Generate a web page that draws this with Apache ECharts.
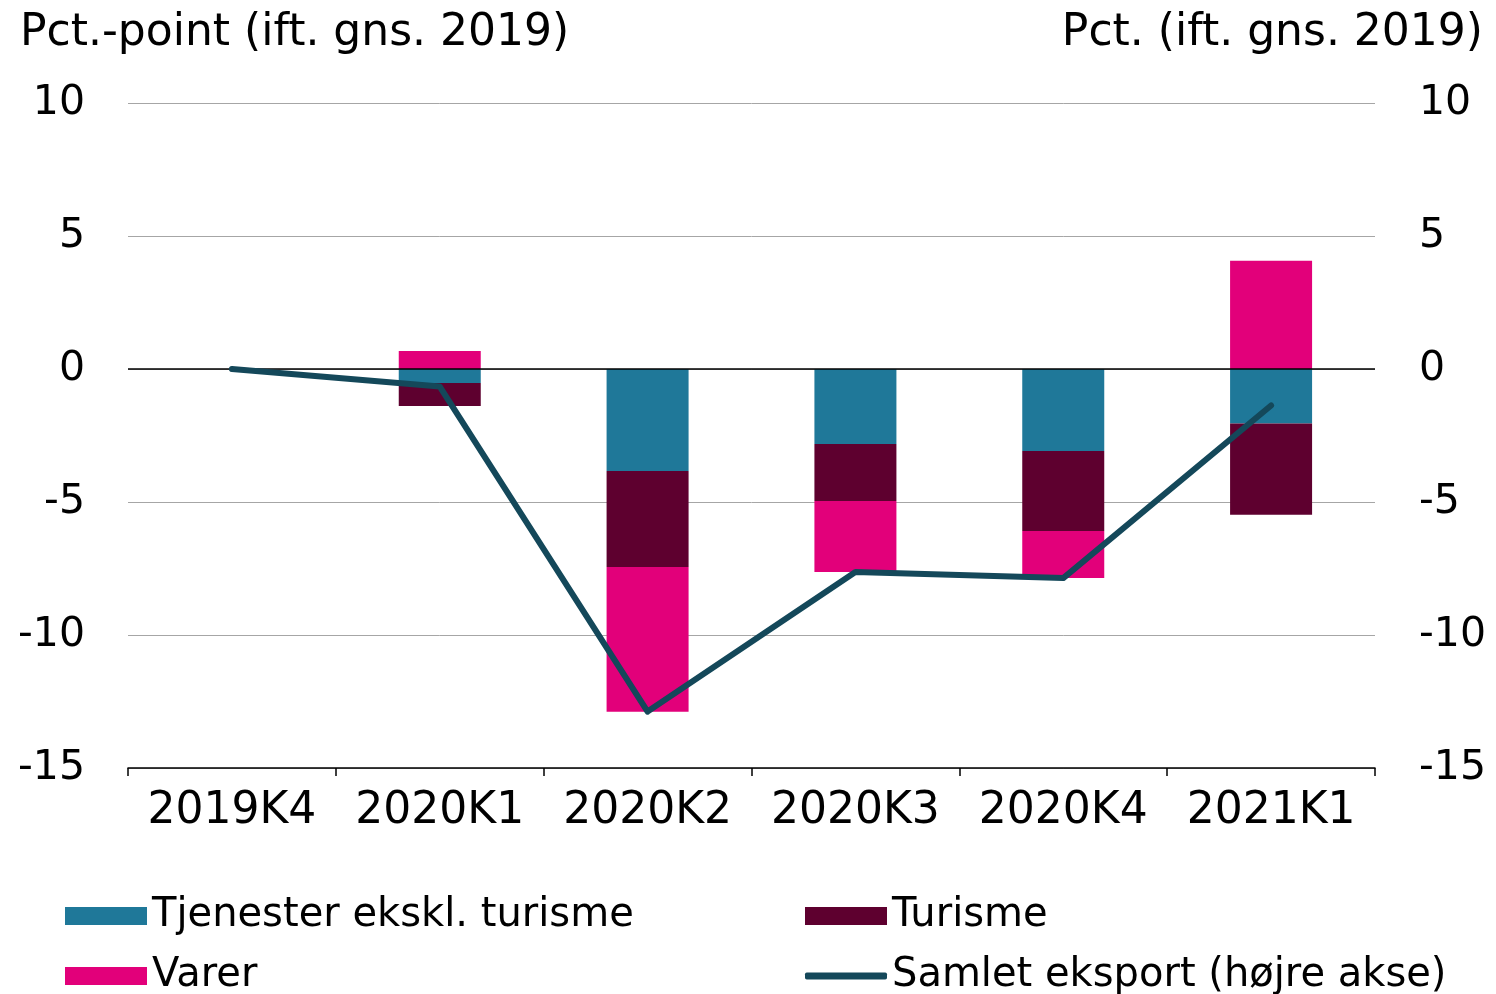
<!DOCTYPE html>
<html>
<head>
<meta charset="utf-8">
<script src="https://cdn.jsdelivr.net/npm/echarts@6/dist/echarts.min.js"></script>
<style>
  html, body { margin: 0; padding: 0; background: #fff; }
  #main { width: 1496px; height: 994px; }
</style>
</head>
<body>
<div id="main"></div>
<script>
// kvartaler
var categories = ['2019K4', '2020K1', '2020K2', '2020K3', '2020K4', '2021K1'];
// bidrag, pct.-point (venstre akse)
var tjenester = [0, -0.53, -3.83, -2.82, -3.08, -2.05];
var turisme = [0, -0.86, -3.61, -2.14, -3.01, -3.43];
var varer = [0, 0.68, -5.45, -2.67, -1.77, 4.07];
// samlet eksport, pct. (højre akse)
var samlet = [0, -0.66, -12.88, -7.63, -7.86, -1.37];

var font = 'DejaVu Sans';
var myChart = echarts.init(document.getElementById('main'));

// en legend pr. element, så placeringen bliver som i originalen
function legendItem(name, left, top, icon, h) {
  return {
    left: left, top: top, padding: 0,
    itemWidth: 82, itemHeight: h, itemTextGap: 9,
    icon: icon,
    textStyle: { fontFamily: font, fontSize: 40, color: '#000' },
    data: [name]
  };
}

var option = {
  animation: false,
  backgroundColor: '#fff',
  textStyle: { fontFamily: font, color: '#000' },
  title: [
    { text: 'Pct.-point (ift. gns. 2019)', left: 15, top: 7,
      textStyle: { fontFamily: font, fontSize: 44, fontWeight: 'normal', color: '#000' } },
    { text: 'Pct. (ift. gns. 2019)', right: 8, top: 7,
      textStyle: { fontFamily: font, fontSize: 44, fontWeight: 'normal', color: '#000' } }
  ],
  grid: { left: 128, right: 121, top: 103, bottom: 226 },
  legend: [
    legendItem('Tjenester ekskl. turisme', 65, 896, 'rect', 18),
    legendItem('Varer', 65, 956, 'rect', 18),
    legendItem('Turisme', 805, 896, 'rect', 18),
    legendItem('Samlet eksport (højre akse)', 805, 956, 'roundRect', 7)
  ],
  xAxis: {
    type: 'category',
    data: categories,
    axisLine: { onZero: false, lineStyle: { color: '#000', width: 1.5 } },
    axisTick: { show: true, length: 8, lineStyle: { color: '#000', width: 1.5 } },
    axisLabel: { interval: 0, fontFamily: font, fontSize: 44, color: '#000', margin: 22 }
  },
  yAxis: [
    {
      type: 'value', min: -15, max: 10, interval: 5,
      axisLine: { show: false }, axisTick: { show: false },
      axisLabel: { fontFamily: font, fontSize: 41, color: '#000', margin: 43 },
      splitLine: { lineStyle: { color: '#a6a6a6', width: 1 } }
    },
    {
      type: 'value', min: -15, max: 10, interval: 5, position: 'right',
      axisLine: { show: false }, axisTick: { show: false },
      axisLabel: { fontFamily: font, fontSize: 41, color: '#000', margin: 44 },
      splitLine: { show: false }
    }
  ],
  series: [
    {
      name: 'Tjenester ekskl. turisme', type: 'bar', stack: 'bidrag', barWidth: 82,
      itemStyle: { color: '#1f7899' },
      data: tjenester,
      markLine: {
        silent: true, symbol: 'none', label: { show: false },
        lineStyle: { color: '#000', width: 1.5, type: 'solid' },
        data: [{ yAxis: 0 }]
      }
    },
    {
      name: 'Turisme', type: 'bar', stack: 'bidrag', barWidth: 82,
      itemStyle: { color: '#5e002f' },
      data: turisme
    },
    {
      name: 'Varer', type: 'bar', stack: 'bidrag', barWidth: 82,
      itemStyle: { color: '#e2007a' },
      data: varer
    },
    {
      name: 'Samlet eksport (højre akse)', type: 'line', yAxisIndex: 1,
      symbol: 'none', showSymbol: false, z: 5,
      itemStyle: { color: '#14485a' },
      lineStyle: { color: '#14485a', width: 6, cap: 'round', join: 'round' },
      data: samlet
    }
  ]
};

myChart.setOption(option);
</script>
</body>
</html>
